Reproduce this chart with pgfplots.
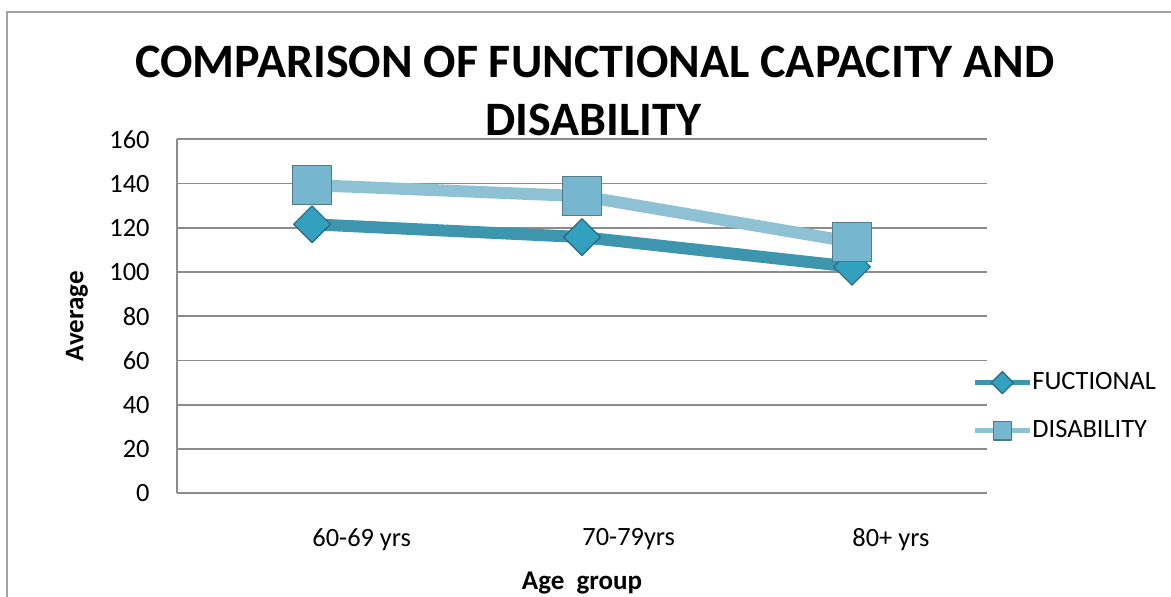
\documentclass[border=0pt]{standalone}
\usepackage{pgfplots}
\pgfplotsset{compat=1.18}
\usepackage{fontspec}
\setmainfont{Carlito}

\definecolor{funcline}{RGB}{62,150,174}
\definecolor{funcfill}{RGB}{52,160,192}
\definecolor{funcedge}{RGB}{38,104,124}
\definecolor{disline}{RGB}{143,193,212}
\definecolor{disfill}{RGB}{118,182,206}
\definecolor{disedge}{RGB}{78,122,138}
\definecolor{gridgray}{RGB}{140,140,140}

\begin{document}
\begin{tikzpicture}
\path[use as bounding box] (0,0) rectangle (585.5pt,298pt);
% chart frame
\draw[gridgray!80, line width=1pt] (3.5pt,-2pt) -- (3.5pt,292pt) -- (590pt,292pt);
% title
\node[anchor=base, inner sep=0pt, font=\bfseries\fontsize{24}{28}\selectfont] at (297.5pt,259.5pt) {COMPARISON OF FUNCTIONAL CAPACITY AND};
\node[anchor=base, inner sep=0pt, font=\bfseries\fontsize{24}{28}\selectfont] at (296.75pt,230.5pt) {DISABILITY};

\begin{axis}[
  at={(88.5pt,51.35pt)}, anchor=south west,
  scale only axis, width=405pt, height=177pt,
  xmin=-0.5, xmax=2.5, ymin=0, ymax=160,
  ytick={0,20,...,160},
  xtick={0,1,2}, xticklabels={60-69 yrs,70-79yrs,80+ yrs},
  axis x line*=bottom, axis y line*=left,
  axis line style={gridgray, line width=0.85pt, -},
  ymajorgrids, grid style={gridgray, line width=0.85pt},
  major tick length=0pt,
  tick label style={font=\fontsize{13.2}{15}\selectfont},
  /pgf/number format/assume math mode=true,
  yticklabel style={anchor=east, inner sep=0pt, xshift=-13.5pt},
  xticklabel style={anchor=north west, inner sep=0pt, yshift=-17.35pt},
  every axis y label/.style={at={(axis description cs:0,0.5)}, xshift=-50pt, rotate=90, anchor=center, font=\bfseries\fontsize{13.5}{15}\selectfont},
  every axis x label/.style={at={(axis description cs:0.5,0)}, yshift=-47.85pt, anchor=base, font=\bfseries\fontsize{13.5}{15}\selectfont},
  ylabel={Average},
  xlabel={Age\ \ group},
  legend image code/.code={\draw[mark repeat=2, mark phase=2, #1] plot coordinates {(0pt,0pt) (13.75pt,0pt) (27.5pt,0pt)};},
  legend style={draw=none, fill=none, inner sep=0pt, at={(0.9815,0.246)}, anchor=west,
    font=\fontsize{13.2}{15}\selectfont, nodes={inner sep=0pt, anchor=west},
    row sep=13.5pt, column sep=0pt},
  legend cell align=left,
]
\addplot[funcline, line width=6pt, line join=round,
  mark=square*, mark size=6.5pt,
  mark options={rotate=45, fill=funcfill, draw=funcedge, line width=0.6pt},
  legend image post style={line width=2.5pt, mark size=3.9pt}]
  coordinates {(0,121.6) (1,115.8) (2,102.4)};
\addlegendentry{FUCTIONAL}
\addplot[disline, line width=6pt, line join=round,
  mark=square*, mark size=9.7pt,
  mark options={fill=disfill, draw=disedge, line width=0.6pt},
  legend image post style={line width=2.5pt, mark size=4.6pt}]
  coordinates {(0,139.3) (1,134.3) (2,113.6)};
\addlegendentry{DISABILITY}
\end{axis}
\end{tikzpicture}
\end{document}
